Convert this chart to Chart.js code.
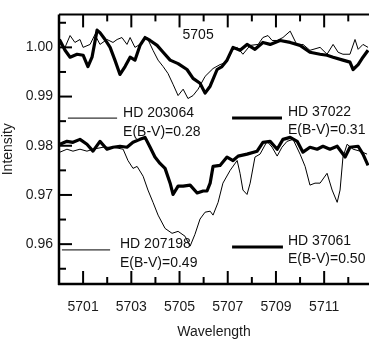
<!DOCTYPE html>
<html lang="en">
<head>
<meta charset="UTF-8">
<title>Intensity vs wavelength</title>
<script src="https://cdn.jsdelivr.net/npm/chart.js"></script>
<style>body{margin:0;background:#fff}</style>
</head>
<body>
<canvas id="myChart" width="369" height="340"></canvas>
<script>
//HD 203064, thin line, upper pair
let wl203064 = [5700.04,5700.25,5700.46,5700.66,5700.87,5701.00,5701.29,5701.49,5701.70,5701.99,5702.24,5702.41,5702.61,5702.82,5702.95,5703.15,5703.36,5703.65,5703.90,5704.11,5704.32,5704.52,5704.73,5704.94,5705.15,5705.35,5705.56,5705.77,5706.06,5706.39,5706.68,5706.97,5707.18,5707.39,5707.63,5707.93,5708.26,5708.46,5708.67,5708.84,5709.05,5709.29,5709.59,5709.88,5710.12,5710.41,5710.83,5711.12,5711.37,5711.58,5711.78,5712.07,5712.28,5712.41,5712.61,5712.82];
let int203064 = [1.0006,1.0000,1.0024,1.0010,1.0016,1.0000,1.0006,1.0026,1.0006,1.0016,1.0010,1.0016,1.0020,1.0006,1.0020,1.0000,1.0006,1.0020,0.9994,0.9974,0.9961,0.9947,0.9925,0.9902,0.9915,0.9896,0.9902,0.9915,0.9941,0.9957,0.9965,0.9970,0.9994,1.0000,0.9986,1.0004,1.0006,1.0020,1.0024,1.0014,1.0014,1.0020,1.0033,1.0004,1.0006,0.9994,1.0000,0.9986,1.0006,0.9990,0.9986,0.9986,1.0016,0.9996,1.0006,1.0000];

//HD 37022, thick line, upper pair
let wl37022 = [5700.00,5700.04,5700.25,5700.46,5700.75,5701.00,5701.20,5701.37,5701.58,5701.70,5701.91,5702.12,5702.32,5702.53,5702.74,5702.95,5703.15,5703.36,5703.57,5703.78,5704.07,5704.32,5704.61,5704.94,5705.31,5705.56,5705.85,5706.06,5706.27,5706.56,5706.76,5706.97,5707.22,5707.51,5707.80,5708.13,5708.46,5708.76,5709.17,5709.59,5710.00,5710.41,5710.83,5711.12,5711.37,5711.78,5712.07,5712.20,5712.41,5712.61,5712.82];
let int37022 = [1.0010,1.0014,0.9994,0.9980,0.9986,0.9984,0.9961,0.9980,1.0035,1.0030,1.0016,1.0000,0.9974,0.9945,0.9961,0.9980,0.9974,1.0004,1.0020,1.0014,1.0004,0.9990,0.9974,0.9967,0.9955,0.9937,0.9927,0.9907,0.9921,0.9955,0.9961,0.9974,1.0000,0.9994,1.0006,0.9996,1.0010,1.0006,1.0014,1.0010,1.0004,0.9990,0.9986,0.9984,0.9980,0.9974,0.9970,0.9955,0.9965,0.9980,0.9994];

//HD 207198, thin line, lower pair
let wl207198 = [5700.04,5700.33,5700.58,5700.87,5701.16,5701.41,5701.83,5702.24,5702.66,5702.86,5703.07,5703.24,5703.49,5703.69,5703.90,5704.11,5704.40,5704.69,5704.94,5705.23,5705.44,5705.64,5705.85,5706.06,5706.27,5706.39,5706.60,5706.80,5707.10,5707.39,5707.51,5707.63,5707.80,5707.93,5708.13,5708.34,5708.63,5708.84,5709.05,5709.25,5709.46,5709.71,5710.00,5710.21,5710.41,5710.62,5710.83,5711.12,5711.33,5711.54,5711.66,5711.78,5711.95,5712.20,5712.49,5712.78];
let int207198 = [0.9787,0.9793,0.9789,0.9793,0.9789,0.9793,0.9797,0.9797,0.9793,0.9770,0.9754,0.9758,0.9738,0.9710,0.9685,0.9659,0.9632,0.9622,0.9626,0.9616,0.9596,0.9620,0.9651,0.9665,0.9667,0.9659,0.9685,0.9724,0.9750,0.9770,0.9744,0.9710,0.9701,0.9724,0.9777,0.9783,0.9809,0.9797,0.9779,0.9797,0.9809,0.9813,0.9783,0.9758,0.9720,0.9724,0.9724,0.9744,0.9710,0.9685,0.9710,0.9777,0.9803,0.9793,0.9789,0.9783];

//HD 37061, thick line, lower pair
let wl37061 = [5700.04,5700.33,5700.58,5700.87,5701.16,5701.41,5701.70,5701.99,5702.24,5702.53,5702.82,5703.07,5703.36,5703.57,5703.78,5703.98,5704.19,5704.40,5704.61,5704.73,5704.94,5705.15,5705.44,5705.73,5705.98,5706.14,5706.27,5706.39,5706.68,5706.97,5707.22,5707.43,5707.80,5708.22,5708.46,5708.76,5709.05,5709.29,5709.59,5709.88,5710.12,5710.41,5710.71,5710.95,5711.24,5711.54,5711.87,5712.07,5712.41,5712.61,5712.82];
let int37061 = [0.9803,0.9809,0.9807,0.9813,0.9803,0.9789,0.9809,0.9793,0.9797,0.9799,0.9797,0.9807,0.9813,0.9817,0.9797,0.9777,0.9764,0.9754,0.9724,0.9701,0.9718,0.9718,0.9720,0.9704,0.9708,0.9708,0.9724,0.9758,0.9760,0.9777,0.9770,0.9779,0.9783,0.9789,0.9807,0.9809,0.9793,0.9813,0.9817,0.9809,0.9787,0.9797,0.9793,0.9799,0.9793,0.9799,0.9777,0.9797,0.9799,0.9783,0.9760];

//tick values
let xTicks = [5701, 5703, 5705, 5707, 5709, 5711];
let xMinor = [5702, 5704, 5706, 5708, 5710, 5712];
let yTicks = [0.96, 0.97, 0.98, 0.99, 1.00];
let yMinor = [0.955, 0.965, 0.975, 0.985, 0.995, 1.005];

//labels written in the plot
let starNames = ['HD 203064', 'HD 37022', 'HD 207198', 'HD 37061'];
let reddening = ['E(B-V)=0.28', 'E(B-V)=0.31', 'E(B-V)=0.49', 'E(B-V)=0.50'];
let bandLabel = '5705';

function toPoints(xs, ys) {
    return xs.map((v, i) => ({ x: v, y: ys[i] }));
}

//key placement in data units: line from x0 to x1 at yLine, text at xText
let keyPos = [
    { x0: 5700.37, x1: 5702.41, yLine: 0.98562, xText: 5702.66, y1: 0.98660, y2: 0.98286, w: 1 },
    { x0: 5707.18, x1: 5709.25, yLine: 0.98562, xText: 5709.50, y1: 0.98680, y2: 0.98316, w: 3 },
    { x0: 5700.12, x1: 5702.12, yLine: 0.95883, xText: 5702.53, y1: 0.96001, y2: 0.95607, w: 1 },
    { x0: 5707.18, x1: 5709.29, yLine: 0.95942, xText: 5709.50, y1: 0.96070, y2: 0.95705, w: 3 }
];

const frame = {
    id: 'frame',
    afterDatasetsDraw(chart) {
        const { ctx, chartArea: a, scales: { x, y } } = chart;
        ctx.save();
        ctx.strokeStyle = '#000';
        ctx.lineCap = 'butt';
        function seg(x0, y0, x1, y1) {
            ctx.beginPath();
            ctx.moveTo(x0, y0);
            ctx.lineTo(x1, y1);
            ctx.stroke();
        }
        //axis lines
        ctx.lineWidth = 2.5;
        seg(a.left, a.top, a.left, a.bottom + 1);
        seg(a.left - 1, a.bottom, a.right, a.bottom);
        ctx.lineWidth = 2;
        seg(a.left, a.top, a.right, a.top);

        //ticks pointing inwards
        ctx.lineWidth = 2;
        xTicks.forEach(v => {
            let p = x.getPixelForValue(v);
            seg(p, a.bottom, p, a.bottom - 13);
            seg(p, a.top, p, a.top + 13);
        });
        xMinor.forEach(v => {
            let p = x.getPixelForValue(v);
            seg(p, a.bottom, p, a.bottom - 7);
            seg(p, a.top, p, a.top + 7);
        });
        yTicks.forEach(v => {
            let p = y.getPixelForValue(v);
            seg(a.left, p, a.left + 13, p);
        });
        yMinor.forEach(v => {
            let p = y.getPixelForValue(v);
            seg(a.left, p, a.left + 7, p);
        });

        //star keys
        ctx.fillStyle = '#111';
        ctx.font = '14px "Liberation Sans", Arial, sans-serif';
        ctx.textBaseline = 'middle';
        keyPos.forEach((k, i) => {
            ctx.lineWidth = k.w;
            seg(x.getPixelForValue(k.x0), y.getPixelForValue(k.yLine), x.getPixelForValue(k.x1), y.getPixelForValue(k.yLine));
            ctx.fillText(starNames[i], x.getPixelForValue(k.xText), y.getPixelForValue(k.y1));
            ctx.fillText(reddening[i], x.getPixelForValue(k.xText), y.getPixelForValue(k.y2));
        });
        ctx.textAlign = 'center';
        ctx.fillText(bandLabel, x.getPixelForValue(5705.77), y.getPixelForValue(1.00256));
        ctx.restore();
    }
};

Chart.defaults.font.family = '"Liberation Sans", Arial, sans-serif';
Chart.defaults.font.size = 14;
Chart.defaults.color = '#1a1a1a';

let ctx = document.getElementById('myChart').getContext('2d');
let myChart = new Chart(ctx, {
    type: 'line',
    data: {
        datasets: [
            { label: starNames[0], data: toPoints(wl203064, int203064), borderColor: '#000', borderWidth: 1 },
            { label: starNames[1], data: toPoints(wl37022, int37022), borderColor: '#000', borderWidth: 3.2 },
            { label: starNames[2], data: toPoints(wl207198, int207198), borderColor: '#000', borderWidth: 1 },
            { label: starNames[3], data: toPoints(wl37061, int37061), borderColor: '#000', borderWidth: 3.2 }
        ]
    },
    options: {
        responsive: false,
        animation: false,
        layout: { padding: { top: 6, left: 0, right: 0, bottom: 0 } },
        elements: {
            point: { radius: 0 },
            line: { tension: 0, borderJoinStyle: 'round', fill: false }
        },
        plugins: {
            legend: { display: false },
            tooltip: { enabled: false }
        },
        scales: {
            x: {
                type: 'linear',
                min: 5700,
                max: 5712.86,
                grid: { display: false, drawTicks: false },
                border: { display: false },
                afterBuildTicks: s => { s.ticks = xTicks.map(v => ({ value: v })); },
                afterFit: s => { s.height = 56; },
                ticks: { padding: 15, maxRotation: 0, autoSkip: false, callback: v => String(v) },
                title: { display: true, text: 'Wavelength', font: { lineHeight: 1 }, padding: { top: 0, bottom: 1 } }
            },
            y: {
                min: 0.9519,
                max: 1.0067,
                grid: { display: false, drawTicks: false },
                border: { display: false },
                afterBuildTicks: s => { s.ticks = yTicks.map(v => ({ value: v })); },
                afterFit: s => { s.width = 59; },
                ticks: { padding: 6, autoSkip: false, callback: v => v.toFixed(2) },
                title: { display: true, text: 'Intensity', padding: 0 }
            }
        }
    },
    plugins: [frame]
});
</script>
</body>
</html>
